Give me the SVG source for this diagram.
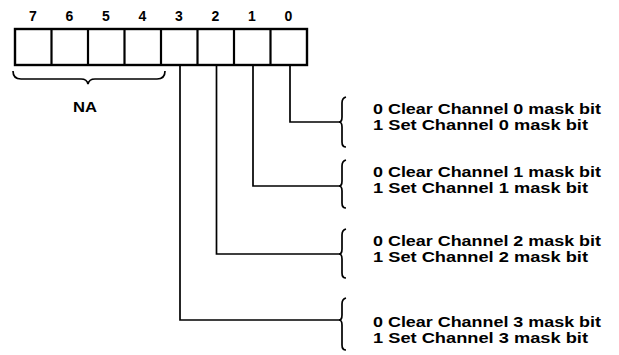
<svg xmlns="http://www.w3.org/2000/svg" width="619" height="355" viewBox="0 0 619 355">
<style>
.bx{fill:#fff;stroke:#000;stroke-width:2.4}
.ln{fill:none;stroke:#000;stroke-width:1.7}
.br{fill:none;stroke:#000;stroke-width:1.7}
text{font-family:"Liberation Sans",Arial,sans-serif;font-weight:bold;fill:#000}
.num{font-size:14px;text-anchor:middle}
.lbl{font-size:14px}
</style>
<rect width="619" height="355" fill="#fff"/>
<g id="register">
<rect class="bx" x="15" y="29" width="292" height="36"/>
<path class="ln" d="M51.5,29V65M88,29V65M124.5,29V65M161,29V65M197.5,29V65M234,29V65M270.5,29V65" style="stroke-width:2.2"/>
<text class="num" x="33" y="21">7</text>
<text class="num" x="69.5" y="21">6</text>
<text class="num" x="106" y="21">5</text>
<text class="num" x="142.5" y="21">4</text>
<text class="num" x="179" y="21">3</text>
<text class="num" x="215.5" y="21">2</text>
<text class="num" x="252" y="21">1</text>
<text class="num" x="288.5" y="21">0</text>
</g>
<g id="na">
<path class="br" d="M13,71 Q13,79 21,79 L81,79 Q87,79 88,84 Q89,79 95,79 L157,79 Q165,79 165,71"/>
<text class="lbl" x="73" y="112" textLength="24" lengthAdjust="spacingAndGlyphs">NA</text>
</g>
<g id="connectors">
<path class="ln" d="M290,65V122H340"/>
<path class="ln" d="M253,65V186H340"/>
<path class="ln" d="M216.5,65V254H340"/>
<path class="ln" d="M180,65V320H340"/>
</g>
<g id="bit0">
<path class="br" d="M346,97 Q342,98 342,103 L342,117 Q342,122 339,122 Q342,122 342,127 L342,142 Q342,147 346,147"/>
<text class="lbl" x="373" y="114" textLength="228" lengthAdjust="spacingAndGlyphs">0 Clear Channel 0 mask bit</text>
<text class="lbl" x="373" y="130" textLength="215" lengthAdjust="spacingAndGlyphs">1 Set Channel 0 mask bit</text>
</g>
<g id="bit1">
<path class="br" d="M346,160 Q342,161 342,166 L342,181 Q342,186 339,186 Q342,186 342,191 L342,203 Q342,208 346,208"/>
<text class="lbl" x="373" y="177" textLength="228" lengthAdjust="spacingAndGlyphs">0 Clear Channel 1 mask bit</text>
<text class="lbl" x="373" y="193" textLength="215" lengthAdjust="spacingAndGlyphs">1 Set Channel 1 mask bit</text>
</g>
<g id="bit2">
<path class="br" d="M346,229 Q342,230 342,235 L342,249 Q342,254 339,254 Q342,254 342,259 L342,273 Q342,278 346,278"/>
<text class="lbl" x="373" y="246" textLength="228" lengthAdjust="spacingAndGlyphs">0 Clear Channel 2 mask bit</text>
<text class="lbl" x="373" y="262" textLength="215" lengthAdjust="spacingAndGlyphs">1 Set Channel 2 mask bit</text>
</g>
<g id="bit3">
<path class="br" d="M346,298 Q342,299 342,304 L342,315 Q342,320 339,320 Q342,320 342,325 L342,345 Q342,350 346,350"/>
<text class="lbl" x="373" y="327" textLength="228" lengthAdjust="spacingAndGlyphs">0 Clear Channel 3 mask bit</text>
<text class="lbl" x="373" y="343" textLength="215" lengthAdjust="spacingAndGlyphs">1 Set Channel 3 mask bit</text>
</g>
</svg>
